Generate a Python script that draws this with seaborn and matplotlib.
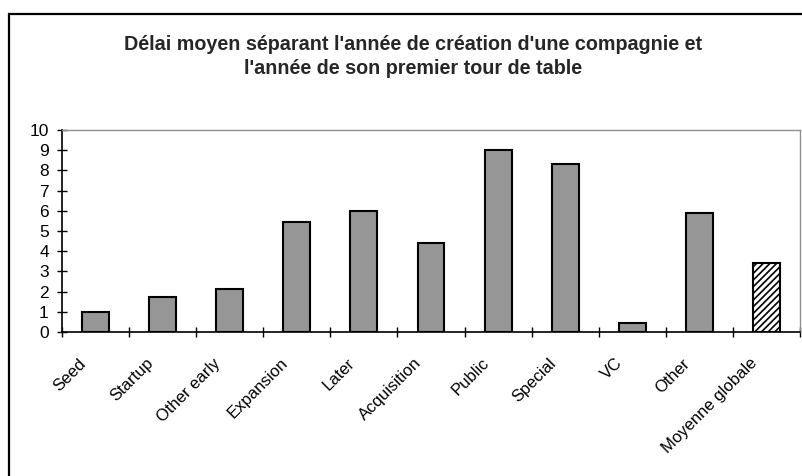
import matplotlib
matplotlib.use("Agg")
import matplotlib.pyplot as plt
import matplotlib.transforms as mtransforms
from matplotlib.patches import Rectangle
import seaborn as sns
import pandas as pd
import numpy as np

categories = ["Seed", "Startup", "Other early", "Expansion", "Later", "Acquisition",
              "Public", "Special", "VC", "Other", "Moyenne globale"]
values = [1.0, 1.75, 2.15, 5.45, 5.97, 4.39, 9.03, 8.3, 0.43, 5.91, 3.4]
title = "Délai moyen séparant l'année de création d'une compagnie et\nl'année de son premier tour de table"
yticks = list(range(0, 11))

sns.set_theme(style="white")
plt.rcParams['font.family'] = ['Liberation Sans', 'DejaVu Sans']
plt.rcParams['hatch.linewidth'] = 1.2

df = pd.DataFrame({"cat": categories, "val": values})

fig = plt.figure(figsize=(8.03, 4.76), dpi=100)
W, H = 803, 476
ax = fig.add_axes([62 / W, 1 - 332 / H, (800 - 62) / W, (332 - 130) / H])

sns.barplot(data=df, x="cat", y="val", color="#969696", saturation=1, width=0.4,
            edgecolor="black", linewidth=1.5, ax=ax)

# hatched last bar
last = ax.patches[-1]
last.set_facecolor("white")
last.set_hatch("/////")

ax.set_xlim(-0.5, len(categories) - 0.5)
ax.set_ylim(0, 10)
ax.set_yticks(yticks)
ax.set_yticklabels([str(t) for t in yticks])
ax.set_xlabel("")
ax.set_ylabel("")

ax.set_xticks(np.arange(len(categories)))
ax.set_xticklabels(categories, rotation=45, ha="right", va="top", rotation_mode="anchor")
ax.set_xticks(np.arange(-0.5, len(categories)), minor=True)
ax.tick_params(axis="x", which="major", length=0, pad=17, labelsize=12, colors="black")
ax.tick_params(axis="x", which="minor", length=7, width=1, direction="inout", bottom=True, color="black")
ax.tick_params(axis="y", which="major", length=7, width=1, direction="inout", left=True,
               pad=6, labelsize=12.5, colors="black")

offset = mtransforms.ScaledTranslation(-0.17, 0, fig.dpi_scale_trans)
for lab in ax.get_xticklabels():
    lab.set_transform(lab.get_transform() + offset)

for s in ["left", "bottom"]:
    ax.spines[s].set_color("black")
    ax.spines[s].set_linewidth(1.2)
for s in ["top", "right"]:
    ax.spines[s].set_visible(True)
    ax.spines[s].set_color("#909090")
    ax.spines[s].set_linewidth(1.0)

fig.text(413 / W, 1 - 35 / H, title, ha="center", va="top", fontsize=14.2,
         fontweight="bold", linespacing=1.3)

frame = Rectangle((9 / W, -0.5), 2.0, (1 - 14 / H) + 0.5, transform=fig.transFigure,
                  fill=False, edgecolor="black", linewidth=1.6, clip_on=False)
fig.patches.append(frame)

fig.savefig("out.png", dpi=100)
